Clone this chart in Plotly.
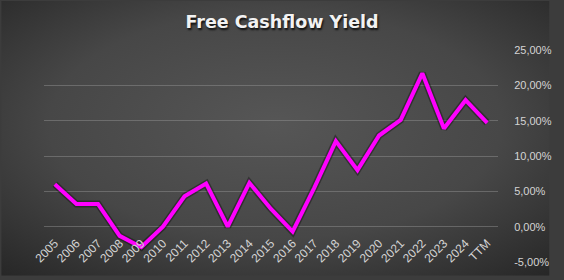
import plotly.graph_objects as go

years = ["2005", "2006", "2007", "2008", "2009", "2010", "2011", "2012", "2013", "2014",
         "2015", "2016", "2017", "2018", "2019", "2020", "2021", "2022", "2023", "2024", "TTM"]
fcf_yield = [6.0, 3.2, 3.2, -1.3, -2.9, 0.0, 4.3, 6.1, 0.0, 6.2,
             2.5, -0.7, 5.5, 12.1, 8.0, 12.9, 15.1, 21.7, 13.9, 17.9, 14.7]
y_ticks = [-5, 0, 5, 10, 15, 20, 25]
y_tick_labels = [f"{v:.2f}".replace(".", ",") + "%" for v in y_ticks]

svg = ("data:image/svg+xml;utf8,"
       "<svg xmlns='http://www.w3.org/2000/svg' width='564' height='280'>"
       "<defs><radialGradient id='g' cx='0.5' cy='0.45' r='0.75'>"
       "<stop offset='0' stop-color='%23565656'/>"
       "<stop offset='0.55' stop-color='%23474747'/>"
       "<stop offset='1' stop-color='%23262626'/>"
       "</radialGradient></defs>"
       "<rect width='564' height='280' fill='url(%23g)'/></svg>")

fig = go.Figure()
fig.add_trace(go.Scatter(
    x=years, y=fcf_yield, mode="lines",
    line=dict(color="rgba(0,0,0,0.35)", width=7, shape="linear"),
    hoverinfo="skip", showlegend=False))
fig.add_trace(go.Scatter(
    x=years, y=fcf_yield, mode="lines",
    line=dict(color="#ff00ff", width=4),
    showlegend=False))

fig.update_layout(
    width=564, height=280,
    margin=dict(l=44, r=53, t=50, b=14),
    paper_bgcolor="#3c3c3c",
    plot_bgcolor="rgba(0,0,0,0)",
    images=[dict(source=svg, xref="paper", yref="paper", x=-44/467, y=1 + 50/216,
                 sizex=564/467, sizey=280/216, sizing="stretch", layer="below",
                 xanchor="left", yanchor="top")],
    title=dict(text="<b>Free Cashflow Yield</b>", x=0.5, xanchor="center",
               y=1 - 22/280, yanchor="middle",
               font=dict(family="DejaVu Sans", size=17.5, color="#f2f2f2",
                         shadow="1px 2px 2px rgba(0,0,0,0.8)")),
    xaxis=dict(type="category", showgrid=False, showline=False, zeroline=False,
               tickangle=-45, anchor="free", position=5 / 30,
               ticks="outside", ticklen=4, tickcolor="rgba(0,0,0,0)",
               tickfont=dict(family="Liberation Sans", size=12, color="#d4d4d4"),
               range=[-0.5, 20.5]),
    yaxis=dict(side="right", range=[-5, 25], tickvals=y_ticks, ticktext=y_tick_labels,
               showgrid=True, gridcolor="rgba(150,150,150,0.45)", gridwidth=1,
               zeroline=False, showline=False,
               ticks="outside", ticklen=13, tickcolor="rgba(0,0,0,0)",
               tickfont=dict(family="Liberation Sans", size=11, color="#d4d4d4")),
)

fig.write_html("out.html")
